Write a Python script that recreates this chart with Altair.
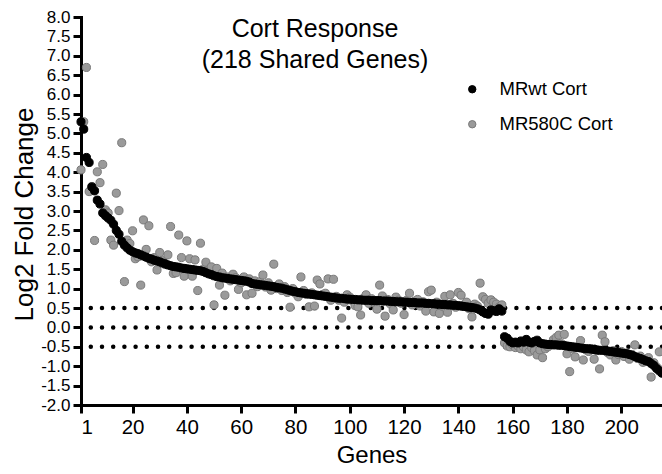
import altair as alt
import pandas as pd

genes = list(range(1, 216))

mrwt = [5.30, 5.11, 4.38, 4.25, 3.62, 3.52, 3.28, 3.18, 2.95, 2.88,
        2.82, 2.76, 2.66, 2.50, 2.40, 2.22, 2.12, 2.05, 1.99, 1.95,
        1.92, 1.90, 1.87, 1.84, 1.81, 1.78, 1.76, 1.73, 1.71, 1.69,
        1.66, 1.64, 1.61, 1.59, 1.57, 1.56, 1.55, 1.53, 1.52, 1.51,
        1.50, 1.49, 1.48, 1.47, 1.46, 1.44, 1.41, 1.38, 1.36, 1.33,
        1.31, 1.30, 1.28, 1.27, 1.26, 1.25, 1.24, 1.23, 1.22, 1.21,
        1.20, 1.19, 1.17, 1.13, 1.12, 1.11, 1.10, 1.09, 1.08, 1.07,
        1.06, 1.05, 1.03, 1.02, 1.01, 0.99, 0.97, 0.95, 0.93, 0.92,
        0.90, 0.89, 0.88, 0.87, 0.86, 0.85, 0.84, 0.83, 0.82, 0.81,
        0.80, 0.79, 0.78, 0.77, 0.76, 0.75, 0.75, 0.74, 0.73, 0.73,
        0.72, 0.72, 0.71, 0.71, 0.70, 0.70, 0.70, 0.69, 0.69, 0.69,
        0.69, 0.68, 0.68, 0.68, 0.67, 0.67, 0.66, 0.66, 0.66, 0.65,
        0.65, 0.64, 0.64, 0.64, 0.63, 0.63, 0.63, 0.62, 0.62, 0.61,
        0.61, 0.60, 0.60, 0.59, 0.59, 0.58, 0.58, 0.57, 0.57, 0.56,
        0.55, 0.54, 0.53, 0.52, 0.51, 0.50, 0.48, 0.45, 0.40, 0.36,
        0.34, 0.45, 0.43, 0.41, 0.48, 0.42,
        -0.24, -0.28, -0.36, -0.40, -0.38, -0.40, -0.35, -0.38, -0.31, -0.38,
        -0.40, -0.36, -0.33, -0.40, -0.42, -0.43, -0.44, -0.44, -0.45, -0.45,
        -0.46, -0.46, -0.47, -0.48, -0.49, -0.50, -0.51, -0.52, -0.53, -0.54,
        -0.55, -0.55, -0.56, -0.57, -0.58, -0.59, -0.59, -0.60, -0.61, -0.62,
        -0.63, -0.64, -0.65, -0.66, -0.67, -0.68, -0.70, -0.72, -0.75, -0.78,
        -0.80, -0.83, -0.86, -0.88, -0.93, -0.98, -1.06, -1.12, -1.18]

mr580c = [4.06, 5.30, 6.70, 3.50, 3.63, 2.24, 4.01, 3.73, 4.20, 3.03,
          2.95, 2.25, 2.12, 3.46, 3.01, 4.76, 1.18, 2.25, 2.16, 2.49,
          1.77, 1.82, 1.09, 2.77, 2.01, 2.62, 1.69, 1.80, 1.48, 1.93,
          1.72, 1.62, 1.87, 2.60, 1.39, 1.41, 2.38, 1.80, 1.32, 2.23,
          1.77, 1.32, 1.74, 0.95, 2.17, 1.50, 1.68, 1.45, 1.56, 0.58,
          1.52, 1.09, 1.40, 0.83, 1.30, 1.20, 1.37, 1.28, 0.98, 1.15,
          1.30, 0.84, 1.25, 0.88, 1.20, 1.05, 1.18, 1.35, 1.04, 1.15,
          0.96, 1.63, 1.00, 1.12, 0.95, 1.05, 0.90, 0.52, 1.00, 0.88,
          0.79, 1.30, 0.95, 0.85, 0.53, 0.89, 0.55, 1.22, 1.12, 0.85,
          0.88, 1.25, 0.70, 1.24, 0.80, 0.70, 0.24, 0.65, 0.84, 0.78,
          0.68, 0.56, 0.53, 0.32, 0.75, 0.84, 0.62, 0.74, 0.65, 0.47,
          1.09, 0.81, 0.29, 0.72, 0.60, 0.45, 0.78, 0.70, 0.62, 0.33,
          0.70, 0.88, 0.58, 0.68, 0.72, 0.55, 0.66, 0.42, 0.92, 0.96,
          0.40, 0.65, 0.36, 0.55, 0.80, 0.39, 0.84, 0.62, 0.52, 0.90,
          0.83, 0.58, 0.65, 0.48, 0.27, 0.60, 0.55, 1.14, 0.79, 0.72,
          0.62, 0.71, 0.65, 0.60, 0.52, 0.58,
          -0.40, -0.48, -0.50, -0.45, -0.52, -0.48, -0.55, -0.50, -0.58, -0.63,
          -0.52, -0.60, -0.71, -0.58, -0.78, -0.55, -0.50, -0.45, -0.32, -0.26,
          -0.20, -0.42, -0.18, -0.68, -1.14, -0.55, -0.76, -0.50, -0.34, -0.84,
          -0.58, -0.62, -0.55, -0.82, -0.60, -1.07, -0.20, -0.37, -0.65, -0.71,
          -0.60, -0.84, -0.70, -0.62, -0.75, -0.66, -0.82, -0.70, -0.45, -0.80,
          -0.74, -0.90, -0.85, -0.78, -1.28, -0.91, -1.02, -0.63, -1.10]

series_names = ["MRwt Cort", "MR580C Cort"]
ref_lines = [0.5, 0.0, -0.5]
x_ticks = [1, 20, 40, 60, 80, 100, 120, 140, 160, 180, 200]
y_ticks = [-2.0, -1.5, -1.0, -0.5, 0.0, 0.5, 1.0, 1.5, 2.0, 2.5, 3.0, 3.5,
           4.0, 4.5, 5.0, 5.5, 6.0, 6.5, 7.0, 7.5, 8.0]
title_text = "Cort Response\n(218 Shared Genes)"

# gray first, black drawn on top
df = pd.concat([
    pd.DataFrame({"gene": genes, "value": mr580c, "series": series_names[1]}),
    pd.DataFrame({"gene": genes, "value": mrwt, "series": series_names[0]}),
], ignore_index=True)

FONT = "Liberation Sans"

xscale = alt.Scale(domain=[1, 215], nice=False, zero=False)
yscale = alt.Scale(domain=[-2, 8], nice=False, zero=False)

y_axis = alt.Axis(values=y_ticks, title="Log2 Fold Change", grid=False,
                  labelOverlap=False, labelFontSize=17, labelPadding=3,
                  labelExpr="datum.value < 0 ? '-' + format(-datum.value, '.1f') : format(datum.value, '.1f')",
                  titleFontSize=26, titleX=-57, titleY=197,
                  titleBaseline="middle", titleAlign="center", titleAngle=270)
x_axis = alt.Axis(values=x_ticks, title="Genes", grid=False,
                  titleFontSize=24, titlePadding=6, labelPadding=4,
                  labelFontSize=20.5)

rules = alt.Chart(pd.DataFrame({"y": ref_lines})).mark_rule(
    color="black", strokeWidth=4.5, strokeDash=[0, 11.2], strokeCap="round"
).encode(y=alt.Y("y:Q", scale=yscale, axis=y_axis, title="Log2 Fold Change"))

legend = alt.Legend(
    orient="none", legendX=382, legendY=63, title=None,
    labelFont=FONT, labelFontSize=18.5, labelColor="black",
    symbolSize=55, rowPadding=16, labelOffset=18, padding=0,
    labelLimit=300, symbolStrokeWidth=1,
)

points = alt.Chart(df).mark_point(filled=True, size=66, opacity=1, strokeWidth=1).encode(
    x=alt.X("gene:Q", scale=xscale, axis=x_axis),
    y=alt.Y("value:Q", scale=yscale, axis=y_axis, title="Log2 Fold Change"),
    fill=alt.Fill("series:N", scale=alt.Scale(domain=series_names, range=["#000000", "#9a9a9a"]),
                  legend=legend),
    stroke=alt.Stroke("series:N", scale=alt.Scale(domain=series_names, range=["#000000", "#7a7a7a"]),
                      legend=legend),
)

title = alt.Chart(pd.DataFrame({"t": [title_text]})).mark_text(
    font=FONT, fontSize=25, lineBreak="\n", lineHeight=31, align="center",
    baseline="alphabetic", color="black"
).encode(x=alt.value(234), y=alt.value(20), text="t:N")

chart = alt.layer(rules, points, title).properties(
    width=581, height=388,
    autosize=alt.AutoSizeParams(type="none"),
    padding={"left": 81, "top": 17, "right": 0, "bottom": 69},
    background="white",
).configure_view(stroke=None).configure_axis(
    domainColor="black", domainWidth=3, tickColor="black", tickWidth=3, tickSize=8,
    labelFont=FONT, labelFontSize=20, labelColor="black", labelPadding=2,
    titleFont=FONT, titleFontWeight="normal", titleColor="black",
    domainCap="square",
)

chart.save("out.html", embed_options={"renderer": "svg", "actions": False})
